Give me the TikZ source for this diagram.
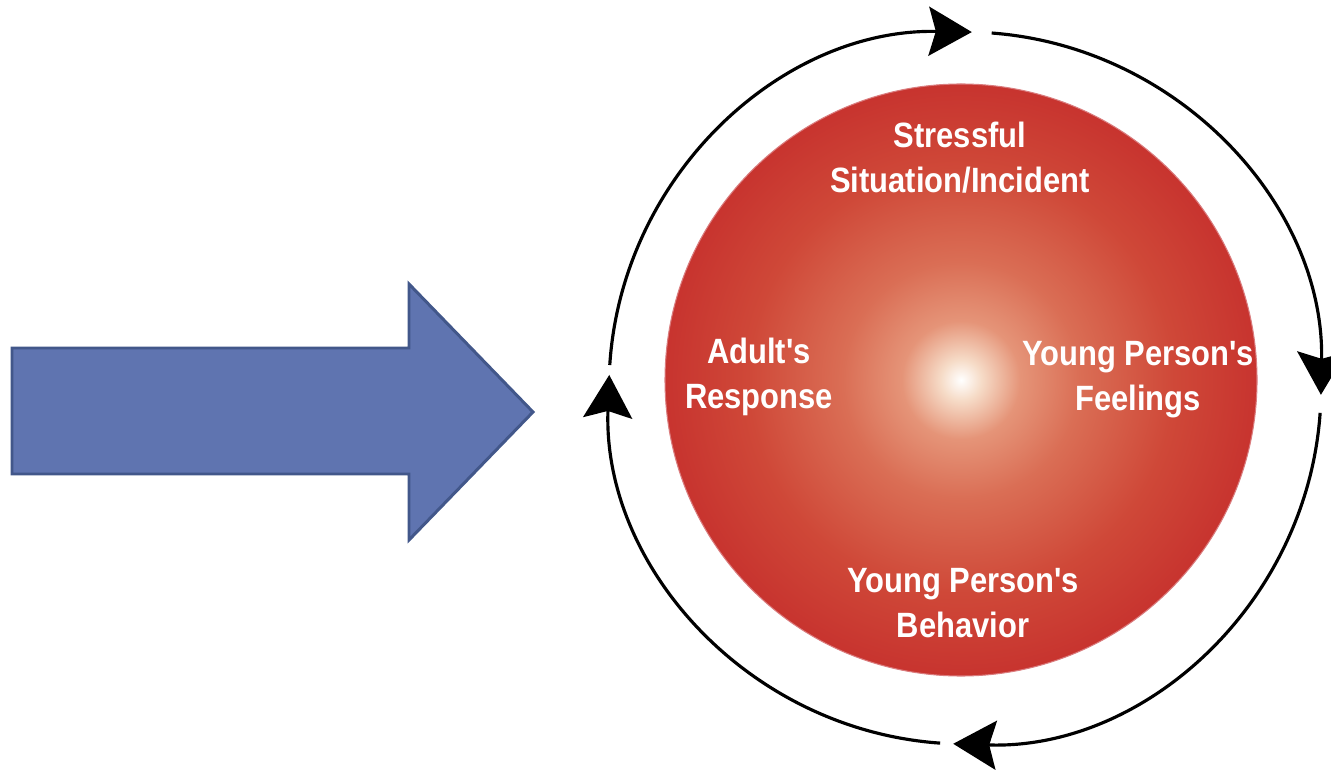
\documentclass[tikz,border=0pt]{standalone}
\usepackage{fontspec}
\usepackage{tikz}
\usetikzlibrary{arrows.meta}
\newfontfamily\cyclefont[FakeStretch=0.88]{Liberation Sans}
\definecolor{arrowblue}{HTML}{5F74B0}
\definecolor{arrowedge}{HTML}{42578A}
\definecolor{redbase}{HTML}{C22528}
\definecolor{glowcore}{HTML}{F6DCC8}
\definecolor{glowpeach}{HTML}{E59478}
\definecolor{gloworange}{HTML}{DA6E55}
\definecolor{glowred}{HTML}{CF4838}
\pgfdeclareradialshading{redglow}{\pgfpoint{0bp}{0bp}}{%
  color(0bp)=(white); color(1.7bp)=(glowcore); color(5bp)=(glowpeach);
  color(10bp)=(gloworange); color(18bp)=(glowred); color(30bp)=(redbase);
  color(50bp)=(redbase!95!black)}
\tikzset{
  bigarrow/.style={fill=arrowblue, draw=arrowedge, line width=1.7pt, line join=miter},
  redball/.style={shading=redglow, draw=redbase!60!white, line width=0.6pt},
  ringarc/.style={draw=black, line width=1.8pt,
    -{Stealth[length=0.86cm, width=0.98cm, inset=0.14cm]}},
  cyclelabel/.style={text=white, align=center, inner sep=0pt,
    font=\cyclefont\bfseries\fontsize{20}{25.6}\selectfont},
}
\begin{document}
\begin{tikzpicture}
\useasboundingbox (0,0) rectangle (26.620,15.440);
\draw[bigarrow] (0.240,5.960) -- (8.180,5.960) -- (8.180,4.640) -- (10.660,7.200)
  -- (8.180,9.760) -- (8.180,8.480) -- (0.240,8.480) -- cycle;
\coordinate (ball) at (19.220,7.840);
\coordinate (ring) at (19.300,7.680);
\shade[redball] (ball) circle (5.920);
\draw[ringarc] ([shift={(176.3:7.120)}]ring) arc[start angle=176.3, end angle=88.9, radius=7.120];
\draw[ringarc] ([shift={(85.7:7.120)}]ring) arc[start angle=85.7, end angle=-1.1, radius=7.120];
\draw[ringarc] ([shift={(-4.0:7.120)}]ring) arc[start angle=-4.0, end angle=-91.9, radius=7.120];
\draw[ringarc] ([shift={(-94.0:7.120)}]ring) arc[start angle=-94.0, end angle=-182.1, radius=7.120];
\node[cyclelabel] (stress) at (19.200,12.280) {Stressful\\Situation/Incident};
\node[cyclelabel] (feel) at (22.760,7.840) {Young Person's\\Feelings};
\node[cyclelabel] (behave) at (19.260,3.380) {Young Person's\\Behavior};
\node[cyclelabel] (adult) at (15.180,7.900) {Adult's\\Response};
\end{tikzpicture}
\end{document}
